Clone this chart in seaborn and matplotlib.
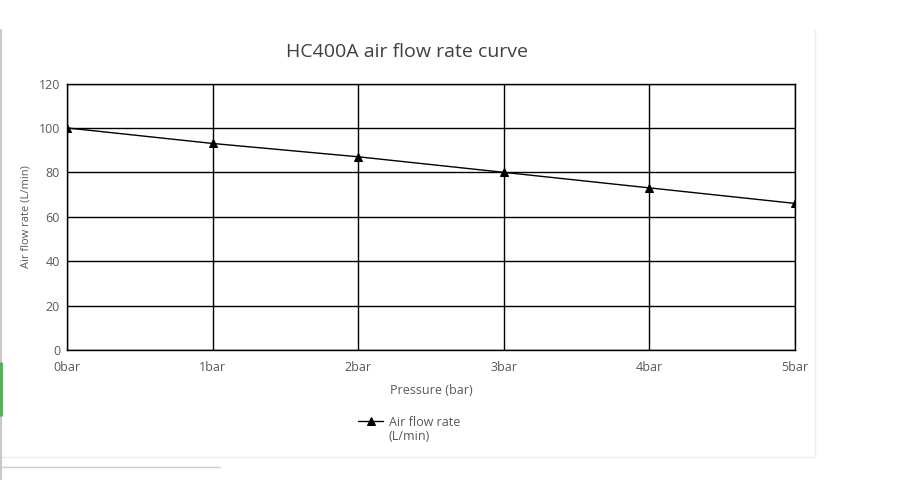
import matplotlib
matplotlib.use("Agg")
import matplotlib.pyplot as plt
import seaborn as sns
import pandas as pd
from matplotlib.lines import Line2D

# data
pressure = ["0bar", "1bar", "2bar", "3bar", "4bar", "5bar"]
flow_rate = [100, 93, 87, 80, 73, 66]

df = pd.DataFrame({"pos": range(len(pressure)), "pressure": pressure, "flow": flow_rate})

sns.set_style("white")
plt.rcParams["font.family"] = ["Open Sans", "DejaVu Sans"]

fig = plt.figure(figsize=(9.21, 4.8), dpi=100)
ax = fig.add_axes([67 / 921, 130 / 480, 728 / 921, 266.5 / 480])

sns.lineplot(data=df, x="pos", y="flow", ax=ax, color="black", linewidth=1,
             marker="^", markersize=6, markeredgecolor="black", legend=False)

ax.set_xlim(0, 5)
ax.set_ylim(0, 120)
ax.set_xticks(df["pos"])
ax.set_xticklabels(pressure)
ax.set_yticks(range(0, 121, 20))
ax.grid(True, color="black", linewidth=1)
for s in ax.spines.values():
    s.set_color("black")
    s.set_linewidth(1)
ax.tick_params(axis="both", length=0, labelsize=9, colors="#595959")
ax.tick_params(axis="x", pad=8)
ax.tick_params(axis="y", pad=5)
ax.set_xlabel("Pressure (bar)", fontsize=9, color="#595959", labelpad=7)
ax.set_ylabel("Air flow rate (L/min)", fontsize=8, color="#595959", labelpad=5)

fig.text(407 / 921, 1 - 52 / 480, "HC400A air flow rate curve", fontsize=14,
         color="#404040", ha="center", va="center")

leg = fig.legend(handles=ax.get_lines()[:1], labels=["Air flow rate"],
                 loc="center left", bbox_to_anchor=(353 / 921, 1 - 422 / 480),
                 frameon=False, fontsize=9, handlelength=2, handletextpad=0.5,
                 labelcolor="#595959", borderaxespad=0)
fig.text(388 / 921, 1 - 437 / 480, "(L/min)", fontsize=9, color="#595959",
         ha="left", va="center")

# page decorations around the chart
fig.add_artist(Line2D([815 / 921, 815 / 921], [1 - 30 / 480, 1 - 457 / 480],
                      transform=fig.transFigure, color="#eeeeee", linewidth=1))
fig.add_artist(Line2D([0, 815 / 921], [1 - 457 / 480, 1 - 457 / 480],
                      transform=fig.transFigure, color="#eeeeee", linewidth=1))
fig.add_artist(Line2D([0.5 / 921, 0.5 / 921], [0, 1 - 30 / 480],
                      transform=fig.transFigure, color="#c8c8c8", linewidth=1.5))
fig.add_artist(Line2D([1 / 921, 1 / 921], [1 - 363 / 480, 1 - 415 / 480],
                      transform=fig.transFigure, color="#4caf50", linewidth=2))
fig.add_artist(Line2D([0, 220 / 921], [1 - 467 / 480, 1 - 467 / 480],
                      transform=fig.transFigure, color="#cccccc", linewidth=1))

fig.savefig("out.png", dpi=100)
